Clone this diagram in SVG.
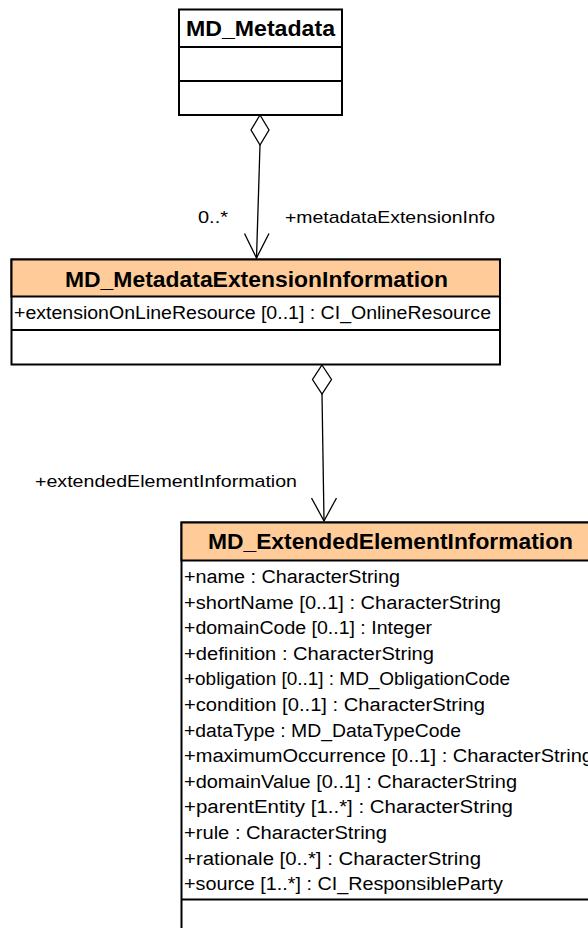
<svg xmlns="http://www.w3.org/2000/svg" width="588" height="928" viewBox="0 0 588 928">
<style>
.box{fill:#fff;stroke:#000;stroke-width:2}
.hdr{fill:#FFCC99;stroke:#000;stroke-width:2}
.sep{stroke:#000;stroke-width:2;fill:none}
.title{font-family:"Liberation Sans",Arial,sans-serif;font-weight:bold;font-size:22px;fill:#000}
.attr{font-family:"Liberation Sans",Arial,sans-serif;font-size:18px;fill:#000}
.lbl{font-family:"Liberation Sans",Arial,sans-serif;font-size:17px;fill:#000}
.edge{stroke:#000;stroke-width:1.3;fill:none}
.dia{stroke:#000;stroke-width:1.3;fill:#fff}
</style>
<rect width="588" height="928" fill="#fff"/>
<g id="connectors">
  <g id="c1">
    <line class="edge" x1="260" y1="145" x2="256.5" y2="258"/>
    <polygon class="dia" points="260,115 269,130 260,145 251,130"/>
    <polyline class="edge" points="244.5,233.5 256.5,258 269,233.5"/>
    <text class="lbl" x="198" y="223" textLength="30" lengthAdjust="spacingAndGlyphs">0..*</text>
    <text class="lbl" x="285" y="223" textLength="210" lengthAdjust="spacingAndGlyphs">+metadataExtensionInfo</text>
  </g>
  <g id="c2">
    <line class="edge" x1="322" y1="394" x2="324" y2="521"/>
    <polygon class="dia" points="322,365 331.5,379.5 322,394 312.5,379.5"/>
    <polyline class="edge" points="311.5,498 324,521 336.5,498"/>
    <text class="lbl" x="35" y="487" textLength="262" lengthAdjust="spacingAndGlyphs">+extendedElementInformation</text>
  </g>
</g>
<g id="MD_Metadata">
  <rect class="box" x="179" y="9.5" width="163" height="105.5"/>
  <line class="sep" x1="179" y1="47" x2="342" y2="47"/>
  <line class="sep" x1="179" y1="81" x2="342" y2="81"/>
  <text class="title" x="186" y="36" textLength="149" lengthAdjust="spacingAndGlyphs">MD_Metadata</text>
</g>
<g id="MD_MetadataExtensionInformation">
  <rect class="box" x="11.5" y="259.5" width="488.5" height="105"/>
  <rect class="hdr" x="11.5" y="259.5" width="488.5" height="37"/>
  <line class="sep" x1="11.5" y1="330" x2="500" y2="330"/>
  <text class="title" x="65" y="286.5" textLength="383" lengthAdjust="spacingAndGlyphs">MD_MetadataExtensionInformation</text>
  <text class="attr" x="14" y="318.5" textLength="477" lengthAdjust="spacingAndGlyphs">+extensionOnLineResource [0..1] : CI_OnlineResource</text>
</g>
<g id="MD_ExtendedElementInformation">
  <rect class="box" x="181.5" y="522.5" width="420" height="420"/>
  <rect class="hdr" x="181.5" y="522.5" width="420" height="38"/>
  <line class="sep" x1="181.5" y1="899.5" x2="601.5" y2="899.5"/>
  <text class="title" x="208" y="548.5" textLength="365" lengthAdjust="spacingAndGlyphs">MD_ExtendedElementInformation</text>
  <text class="attr" x="184" y="583" textLength="216" lengthAdjust="spacingAndGlyphs">+name : CharacterString</text>
  <text class="attr" x="184" y="608.6" textLength="317" lengthAdjust="spacingAndGlyphs">+shortName [0..1] : CharacterString</text>
  <text class="attr" x="184" y="634.2" textLength="248" lengthAdjust="spacingAndGlyphs">+domainCode [0..1] : Integer</text>
  <text class="attr" x="184" y="659.8" textLength="250" lengthAdjust="spacingAndGlyphs">+definition : CharacterString</text>
  <text class="attr" x="184" y="685.4" textLength="326" lengthAdjust="spacingAndGlyphs">+obligation [0..1] : MD_ObligationCode</text>
  <text class="attr" x="184" y="711" textLength="301" lengthAdjust="spacingAndGlyphs">+condition [0..1] : CharacterString</text>
  <text class="attr" x="184" y="736.6" textLength="277" lengthAdjust="spacingAndGlyphs">+dataType : MD_DataTypeCode</text>
  <text class="attr" x="184" y="762.2" textLength="409" lengthAdjust="spacingAndGlyphs">+maximumOccurrence [0..1] : CharacterString</text>
  <text class="attr" x="184" y="787.8" textLength="333" lengthAdjust="spacingAndGlyphs">+domainValue [0..1] : CharacterString</text>
  <text class="attr" x="184" y="813.4" textLength="329" lengthAdjust="spacingAndGlyphs">+parentEntity [1..*] : CharacterString</text>
  <text class="attr" x="184" y="839" textLength="203" lengthAdjust="spacingAndGlyphs">+rule : CharacterString</text>
  <text class="attr" x="184" y="864.6" textLength="297" lengthAdjust="spacingAndGlyphs">+rationale [0..*] : CharacterString</text>
  <text class="attr" x="184" y="890.2" textLength="319" lengthAdjust="spacingAndGlyphs">+source [1..*] : CI_ResponsibleParty</text>
</g>
</svg>
